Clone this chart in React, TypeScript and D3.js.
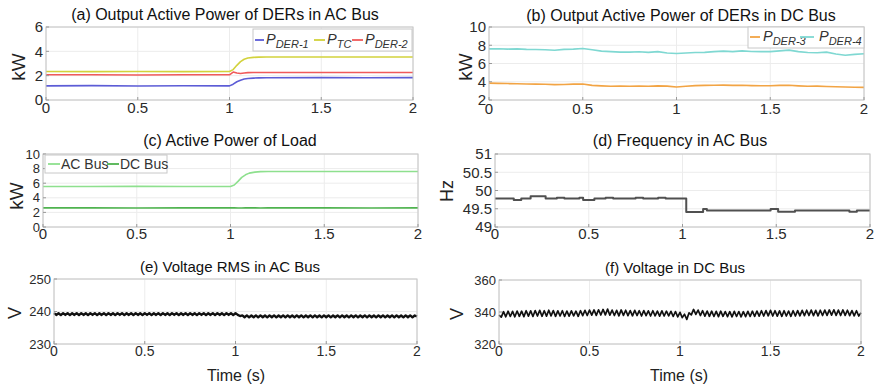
import React from 'react';
import * as d3 from 'd3';

const xTicks = [0, 0.5, 1, 1.5, 2];

// (a) output active power of DERs in AC bus (kW)
const timeA = [0, 0.25, 0.5, 0.75, 1.0, 1.02, 1.04, 1.06, 1.08, 1.1, 1.13, 1.16, 1.2, 1.5, 1.75, 2.0];
const pDer1 = [1.16, 1.18, 1.15, 1.17, 1.16, 1.3, 1.5, 1.63, 1.72, 1.77, 1.8, 1.82, 1.83, 1.84, 1.83, 1.84];
const pTc = [2.34, 2.33, 2.34, 2.33, 2.34, 2.5, 2.85, 3.15, 3.35, 3.45, 3.5, 3.52, 3.53, 3.53, 3.53, 3.53];
const pDer2 = [2.07, 2.07, 2.06, 2.07, 2.07, 2.3, 2.22, 2.18, 2.22, 2.25, 2.26, 2.26, 2.26, 2.26, 2.26, 2.26];

// (b) output active power of DERs in DC bus (kW)
const timeB = [
  0, 0.05, 0.1, 0.15, 0.2, 0.25, 0.3, 0.35, 0.4, 0.45, 0.5, 0.55, 0.6, 0.65, 0.7, 0.75, 0.8, 0.85, 0.9, 0.95,
  1.0, 1.05, 1.1, 1.15, 1.2, 1.25, 1.3, 1.35, 1.4, 1.45, 1.5, 1.55, 1.6, 1.65, 1.7, 1.75, 1.8, 1.85, 1.9, 1.95, 2.0,
];
const pDer3 = [
  3.85, 3.82, 3.8, 3.78, 3.76, 3.74, 3.72, 3.68, 3.7, 3.74, 3.76, 3.6, 3.55, 3.5, 3.52, 3.5, 3.52, 3.5, 3.55, 3.52,
  3.42, 3.5, 3.58, 3.6, 3.62, 3.63, 3.6, 3.62, 3.58, 3.56, 3.56, 3.6, 3.62, 3.55, 3.5, 3.52, 3.48, 3.45, 3.42, 3.4, 3.38,
];
const pDer4 = [
  7.6, 7.62, 7.58, 7.6, 7.55, 7.54, 7.5, 7.45, 7.55, 7.58, 7.65, 7.5, 7.36, 7.3, 7.25, 7.25, 7.28, 7.22, 7.3, 7.15,
  7.1, 7.15, 7.2, 7.22, 7.3, 7.36, 7.3, 7.38, 7.32, 7.3, 7.3, 7.38, 7.47, 7.3, 7.2, 7.18, 7.25, 7.05, 6.9, 7.0, 7.07,
];

// (c) active power of load (kW)
const timeC = [0, 0.25, 0.5, 0.75, 1.0, 1.02, 1.04, 1.06, 1.08, 1.1, 1.13, 1.16, 1.2, 1.5, 1.75, 2.0];
const loadAC = [5.55, 5.55, 5.56, 5.55, 5.55, 5.75, 6.25, 6.8, 7.15, 7.38, 7.52, 7.58, 7.6, 7.6, 7.6, 7.6];
const loadDC = [2.62, 2.62, 2.61, 2.62, 2.62, 2.62, 2.6, 2.61, 2.62, 2.62, 2.62, 2.61, 2.62, 2.62, 2.61, 2.62];

// (d) frequency in AC bus (Hz), held between samples
const timeD = [0, 0.1, 0.14, 0.19, 0.27, 0.33, 0.37, 0.45, 0.47, 0.53, 0.59, 0.63, 0.75, 0.79, 0.87, 0.91, 1.02, 1.11, 1.13, 1.47, 1.51, 1.6, 1.89, 1.93, 2.0];
const freqAC = [49.78, 49.74, 49.78, 49.84, 49.78, 49.8, 49.78, 49.8, 49.74, 49.78, 49.8, 49.78, 49.8, 49.78, 49.8, 49.78, 49.41, 49.49, 49.45, 49.49, 49.42, 49.45, 49.42, 49.45, 49.45];

// (e) voltage RMS in AC bus (V), sampled every 12.5 ms
const voltAC = [
  239.5, 238.95, 239.45, 238.9, 239.5, 238.95, 239.5, 238.9, 239.45, 238.95, 239.5, 238.9, 239.5, 238.95, 239.45, 238.9,
  239.5, 238.95, 239.5, 238.9, 239.45, 238.95, 239.5, 238.9, 239.5, 238.95, 239.45, 238.9, 239.5, 238.95, 239.5, 238.9,
  239.45, 238.95, 239.5, 238.9, 239.5, 238.95, 239.45, 238.9, 239.5, 238.95, 239.5, 238.9, 239.45, 238.95, 239.5, 238.9,
  239.5, 238.95, 239.45, 238.9, 239.5, 238.95, 239.5, 238.9, 239.45, 238.95, 239.5, 238.9, 239.5, 238.95, 239.45, 238.9,
  239.5, 238.95, 239.5, 238.9, 239.45, 238.95, 239.5, 238.9, 239.5, 238.95, 239.45, 238.9, 239.5, 238.95, 239.5, 238.9,
  239.5, 238.95, 238.6, 238.8, 238.25, 238.8, 238.2, 238.75, 238.25, 238.8, 238.2, 238.8, 238.25, 238.75, 238.2, 238.8,
  238.25, 238.8, 238.2, 238.75, 238.25, 238.8, 238.2, 238.8, 238.25, 238.75, 238.2, 238.8, 238.25, 238.8, 238.2, 238.75,
  238.25, 238.8, 238.2, 238.8, 238.25, 238.75, 238.2, 238.8, 238.25, 238.8, 238.2, 238.75, 238.25, 238.8, 238.2, 238.8,
  238.25, 238.75, 238.2, 238.8, 238.25, 238.8, 238.2, 238.75, 238.25, 238.8, 238.2, 238.8, 238.25, 238.75, 238.2, 238.8,
  238.25, 238.8, 238.2, 238.75, 238.25, 238.8, 238.2, 238.8, 238.25, 238.75, 238.2, 238.8, 238.25, 238.8, 238.2, 238.75,
  238.5,
];

// (f) voltage in DC bus (V), sampled every 12.5 ms
const voltDC = [
  338, 336.8, 340.2, 337, 340.5, 337.2, 340.4, 337, 340.6, 337.3, 340.5, 337.1, 340.8, 337.4, 340.7, 337.2,
  340.9, 337.5, 341, 337.3, 340.8, 337.4, 341.1, 337.6, 340.9, 337.3, 340.7, 337.5, 340.8, 337.2, 340.6, 337.4,
  340.7, 337.6, 340.5, 337.3, 340.8, 337.7, 341, 337.8, 341.2, 338, 341.3, 337.9, 341.4, 338.1, 341.6, 338.2,
  341.8, 338, 341.2, 337.8, 341, 337.6, 341.3, 337.9, 341.1, 337.7, 340.9, 337.6, 341, 337.8, 340.8, 337.5,
  340.9, 337.7, 340.7, 337.5, 340.8, 337.6, 340.6, 337.4, 340.7, 337.5, 340.5, 337.6, 340.4, 337.2, 340.3, 337,
  339.8, 336.5, 338.6, 335.4, 339.5, 338.2, 341.6, 338.5, 341.2, 337.8, 340.8, 337.4, 340.6, 337.3, 340.5, 337.2,
  340.4, 337.1, 340.5, 337.3, 340.3, 337.1, 340.2, 337, 340.4, 337.2, 340.3, 337, 340.2, 337.1, 340.4, 337.2,
  340.5, 337.3, 340.6, 337.4, 340.8, 337.5, 340.9, 337.6, 341, 337.5, 340.8, 337.4, 340.7, 337.3, 340.8, 337.5,
  340.6, 337.3, 340.8, 337.5, 340.9, 337.6, 341, 337.7, 341.1, 337.8, 341.2, 337.7, 341, 337.6, 341.1, 337.8,
  341.2, 337.9, 341.3, 338, 341.4, 337.9, 341.2, 337.8, 341.3, 337.9, 341.1, 337.7, 340.9, 337.6, 340.8, 337.5,
  339.5,
];
const timeEF = d3.range(voltDC.length).map((i) => i * 0.0125);

type Series = { t: number[]; v: number[]; color: string; width: number; step?: boolean };
type LegendItem = { color: string; main: string; sub?: string; dash: [number, number]; tx: number };
type Legend = { x: number; y: number; w: number; h: number; base: number; dashY: number; size: number; items: LegendItem[] };
type PanelCfg = {
  l: number; t: number; r: number; b: number;
  yDomain: [number, number]; yTicks: number[];
  title: string; titleX: number; titleY: number; titleSize: number;
  ylabel: string; ylabelX: number; ylabelY: number; ylabelSize: number;
  yTickSize: number; xTickSize: number; xTickBase: number;
  series: Series[]; legend?: Legend; xlabel?: string; xlabelX?: number;
};

const FONT = '"Liberation Sans", Arial, Helvetica, sans-serif';

const panels: PanelCfg[] = [
  {
    l: 46, t: 27, r: 413, b: 100, yDomain: [0, 6], yTicks: [0, 2, 4, 6],
    title: '(a) Output Active Power of DERs in AC Bus', titleX: 225, titleY: 20, titleSize: 16,
    ylabel: 'kW', ylabelX: 18, ylabelY: 67, ylabelSize: 19, yTickSize: 15, xTickSize: 15, xTickBase: 113,
    series: [
      { t: timeA, v: pDer1, color: '#5c5cd6', width: 1.6 },
      { t: timeA, v: pTc, color: '#d2d23c', width: 1.6 },
      { t: timeA, v: pDer2, color: '#f05a5a', width: 1.6 },
    ],
    legend: {
      x: 253, y: 29, w: 159, h: 22, base: 15, dashY: 11, size: 14.5,
      items: [
        { color: '#5c5cd6', main: 'P', sub: 'DER-1', dash: [2, 11], tx: 13 },
        { color: '#d2d23c', main: 'P', sub: 'TC', dash: [61, 72], tx: 74 },
        { color: '#f05a5a', main: 'P', sub: 'DER-2', dash: [99, 110], tx: 112 },
      ],
    },
  },
  {
    l: 489, t: 27, r: 864, b: 100, yDomain: [2, 10], yTicks: [2, 4, 6, 8, 10],
    title: '(b) Output Active Power of DERs in DC Bus', titleX: 681, titleY: 21, titleSize: 16,
    ylabel: 'kW', ylabelX: 465, ylabelY: 67, ylabelSize: 19, yTickSize: 15, xTickSize: 15, xTickBase: 114,
    series: [
      { t: timeB, v: pDer3, color: '#f2a444', width: 1.6 },
      { t: timeB, v: pDer4, color: '#7fd8d2', width: 1.6 },
    ],
    legend: {
      x: 748, y: 27, w: 116, h: 21, base: 14, dashY: 10, size: 14.5,
      items: [
        { color: '#f2a444', main: 'P', sub: 'DER-3', dash: [2, 12], tx: 15 },
        { color: '#7fd8d2', main: 'P', sub: 'DER-4', dash: [52, 66], tx: 71 },
      ],
    },
  },
  {
    l: 43, t: 154, r: 418, b: 227, yDomain: [0, 10], yTicks: [0, 2, 4, 6, 8, 10],
    title: '(c) Active Power of Load', titleX: 230, titleY: 146, titleSize: 16,
    ylabel: 'kW', ylabelX: 16, ylabelY: 196, ylabelSize: 19, yTickSize: 13, xTickSize: 15, xTickBase: 239,
    series: [
      { t: timeC, v: loadAC, color: '#8ee08e', width: 1.6 },
      { t: timeC, v: loadDC, color: '#4fb34f', width: 1.6 },
    ],
    legend: {
      x: 45, y: 155, w: 122, h: 18, base: 13.5, dashY: 9, size: 14,
      items: [
        { color: '#8ee08e', main: 'AC Bus', dash: [3, 15], tx: 16 },
        { color: '#4fb34f', main: 'DC Bus', dash: [62, 74], tx: 75 },
      ],
    },
  },
  {
    l: 495, t: 154, r: 870, b: 227, yDomain: [49, 51], yTicks: [49, 49.5, 50, 50.5, 51],
    title: '(d) Frequency in AC Bus', titleX: 680, titleY: 146, titleSize: 16,
    ylabel: 'Hz', ylabelX: 447, ylabelY: 191, ylabelSize: 18, yTickSize: 15, xTickSize: 15, xTickBase: 239,
    series: [{ t: timeD, v: freqAC, color: '#505050', width: 2, step: true }],
  },
  {
    l: 54, t: 279, r: 417, b: 344, yDomain: [230, 250], yTicks: [230, 240, 250],
    title: '(e) Voltage RMS in AC Bus', titleX: 230, titleY: 272, titleSize: 15,
    ylabel: 'V', ylabelX: 15, ylabelY: 313, ylabelSize: 18, yTickSize: 13, xTickSize: 14, xTickBase: 356,
    series: [{ t: timeEF, v: voltAC, color: '#111', width: 2.4 }],
    xlabel: 'Time (s)', xlabelX: 236,
  },
  {
    l: 499, t: 280, r: 861, b: 344, yDomain: [320, 360], yTicks: [320, 340, 360],
    title: '(f) Voltage in DC Bus', titleX: 675, titleY: 273, titleSize: 15,
    ylabel: 'V', ylabelX: 457, ylabelY: 314, ylabelSize: 18, yTickSize: 13, xTickSize: 14, xTickBase: 356,
    series: [{ t: timeEF, v: voltDC, color: '#111', width: 1.7 }],
    xlabel: 'Time (s)', xlabelX: 679,
  },
];

const Panel = ({ p }: { p: PanelCfg }) => {
  const x = d3.scaleLinear().domain([0, 2]).range([p.l, p.r]);
  const y = d3.scaleLinear().domain(p.yDomain).range([p.b, p.t]);
  const lg = p.legend;
  return (
    <g>
      {/* grid */}
      {xTicks.map((v) => (
        <line key={'gx' + v} x1={x(v)} x2={x(v)} y1={p.t} y2={p.b} stroke="#ececec" strokeWidth={1} />
      ))}
      {p.yTicks.map((v) => (
        <line key={'gy' + v} x1={p.l} x2={p.r} y1={y(v)} y2={y(v)} stroke="#ececec" strokeWidth={1} />
      ))}
      {/* data */}
      {p.series.map((s, k) => {
        const line = d3
          .line<number>()
          .x((_, i) => x(s.t[i]))
          .y((d) => y(d))
          .curve(s.step ? d3.curveStepAfter : d3.curveLinear);
        return <path key={k} d={line(s.v) || ''} fill="none" stroke={s.color} strokeWidth={s.width} strokeLinejoin="round" />;
      })}
      {/* box + ticks */}
      <rect x={p.l} y={p.t} width={p.r - p.l} height={p.b - p.t} fill="none" stroke="#c4c4c4" strokeWidth={1} />
      {xTicks.map((v) => (
        <line key={'tx' + v} x1={x(v)} x2={x(v)} y1={p.b} y2={p.b - 3} stroke="#999" />
      ))}
      {p.yTicks.map((v) => (
        <line key={'ty' + v} x1={p.l} x2={p.l + 3} y1={y(v)} y2={y(v)} stroke="#999" />
      ))}
      {xTicks.map((v) => (
        <text key={'lx' + v} x={x(v)} y={p.xTickBase} textAnchor="middle" fontSize={p.xTickSize} fill="#2a2a2a">
          {String(v)}
        </text>
      ))}
      {p.yTicks.map((v) => (
        <text key={'ly' + v} x={p.l - 3} y={y(v)} dy="0.36em" textAnchor="end" fontSize={p.yTickSize} fill="#2a2a2a">
          {String(v)}
        </text>
      ))}
      <text x={p.titleX} y={p.titleY} textAnchor="middle" fontSize={p.titleSize} fill="#111">
        {p.title}
      </text>
      <text
        transform={`translate(${p.ylabelX},${p.ylabelY}) rotate(-90)`}
        dy="0.36em"
        textAnchor="middle"
        fontSize={p.ylabelSize}
        fill="#222"
      >
        {p.ylabel}
      </text>
      {p.xlabel && (
        <text x={p.xlabelX} y={381} textAnchor="middle" fontSize={16} fill="#222">
          {p.xlabel}
        </text>
      )}
      {lg && (
        <g>
          <rect x={lg.x} y={lg.y} width={lg.w} height={lg.h} fill="#fff" stroke="#c8c8c8" strokeWidth={1} />
          {lg.items.map((it, i) => (
            <g key={i}>
              <line
                x1={lg.x + it.dash[0]}
                x2={lg.x + it.dash[1]}
                y1={lg.y + lg.dashY}
                y2={lg.y + lg.dashY}
                stroke={it.color}
                strokeWidth={1.8}
              />
              <text x={lg.x + it.tx} y={lg.y + lg.base} fontSize={lg.size} fill="#333" fontStyle={it.sub ? 'italic' : 'normal'}>
                {it.main}
                {it.sub && (
                  <tspan fontSize={11} dy={4}>
                    {it.sub}
                  </tspan>
                )}
              </text>
            </g>
          ))}
        </g>
      )}
    </g>
  );
};

export default function App() {
  return (
    <svg
      width={874}
      height={384}
      style={{ position: 'absolute', left: 0, top: 0, background: '#fff' }}
      fontFamily={FONT}
    >
      <rect width={874} height={384} fill="#fff" />
      {panels.map((p, i) => (
        <Panel key={i} p={p} />
      ))}
    </svg>
  );
}
